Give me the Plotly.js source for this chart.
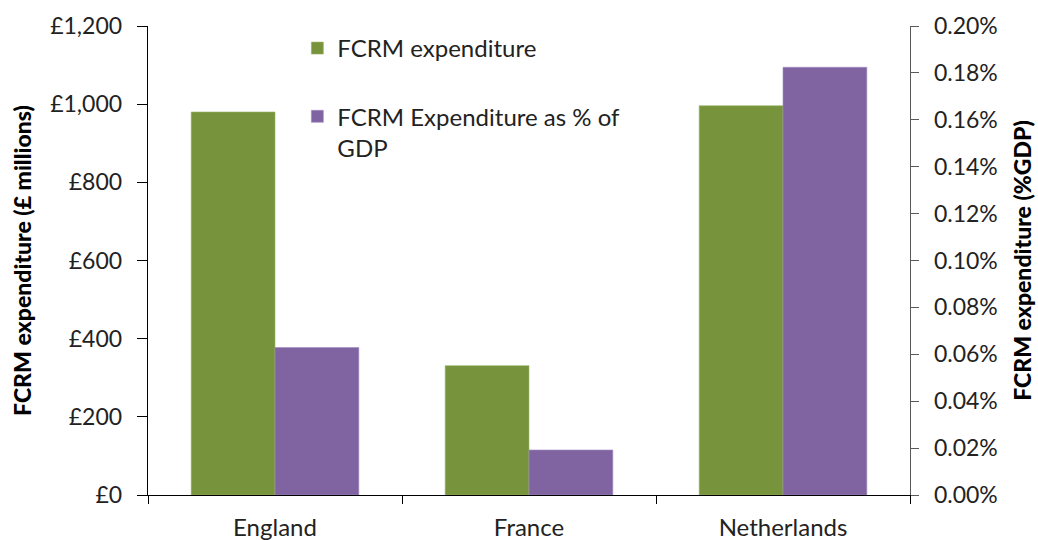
<!DOCTYPE html>
<html>
<head>
<meta charset="utf-8">
<script src="https://cdn.plot.ly/plotly-3.0.1.min.js"></script>
<style>html,body{margin:0;padding:0;background:#fff;}#chart{width:1038px;height:540px;}</style>
</head>
<body>
<div id="chart"></div>
<script>
const countries = ["England", "France", "Netherlands"];
const expenditureMillions = [980, 331, 996];
const expenditurePctGDP = [0.000629, 0.000192, 0.001824];
const seriesNames = ["FCRM expenditure", "FCRM Expenditure as % of<br>GDP"];
const leftTickVals = [0, 200, 400, 600, 800, 1000, 1200];
const leftTickText = ["£0", "£200", "£400", "£600", "£800", "£1,000", "£1,200"];

const FONT = "Lato, 'Open Sans', sans-serif";

const traces = [
  {
    type: "bar", x: countries, y: expenditureMillions, name: seriesNames[0],
    marker: {color: "#77933C", line: {color: "#9bb56a", width: 0.6}},
    offsetgroup: "a", legendgroup: "a", yaxis: "y", hoverinfo: "none"
  },
  {
    type: "bar", x: countries, y: expenditurePctGDP, name: seriesNames[1],
    marker: {color: "#8064A2", line: {color: "#a38cc0", width: 0.6}},
    offsetgroup: "b", legendgroup: "b", yaxis: "y2", hoverinfo: "none"
  }
];

const layout = {
  width: 1038, height: 540,
  margin: {l: 148, r: 128, t: 26, b: 45},
  paper_bgcolor: "#fff", plot_bgcolor: "#fff",
  font: {family: FONT, size: 24, color: "#222"},
  barmode: "group", bargap: 0.34, bargroupgap: 0,
  showlegend: true,
  legend: {
    x: 0.196, y: 1.0, xanchor: "left", yanchor: "top",
    font: {family: FONT, size: 24, color: "#222"},
    traceorder: "grouped", tracegroupgap: 34, valign: "top",
    bgcolor: "rgba(0,0,0,0)"
  },
  xaxis: {
    type: "category", showline: true, linecolor: "#000", linewidth: 1.3,
    ticks: "outside", tickson: "boundaries", ticklen: 8, tickcolor: "#000",
    showgrid: false, zeroline: false, ticklabelstandoff: 11,
    tickfont: {family: FONT, size: 24, color: "#222"}
  },
  yaxis: {
    range: [0, 1200], tickvals: leftTickVals, ticktext: leftTickText,
    showline: true, linecolor: "#000", linewidth: 1.3,
    ticks: "outside", ticklen: 10, tickcolor: "#000",
    showgrid: false, zeroline: false, ticklabelstandoff: 10,
    tickfont: {family: FONT, size: 23, color: "#222"},
    title: {text: "FCRM expenditure (£ millions)", font: {family: FONT, size: 23, color: "#000", weight: 900}, standoff: 12}
  },
  yaxis2: {
    range: [0, 0.002], dtick: 0.0002, tick0: 0, tickformat: ".2%",
    overlaying: "y", side: "right",
    showline: true, linecolor: "#595959", linewidth: 1.3,
    ticks: "outside", ticklen: 8, tickcolor: "#595959",
    showgrid: false, zeroline: false, ticklabelstandoff: 10,
    tickfont: {family: FONT, size: 23, color: "#222"},
    title: {text: "FCRM expenditure (%GDP)", font: {family: FONT, size: 23, color: "#000", weight: 900}, standoff: 18}
  }
};

Plotly.newPlot("chart", traces, layout, {staticPlot: true, displayModeBar: false});
</script>
</body>
</html>
